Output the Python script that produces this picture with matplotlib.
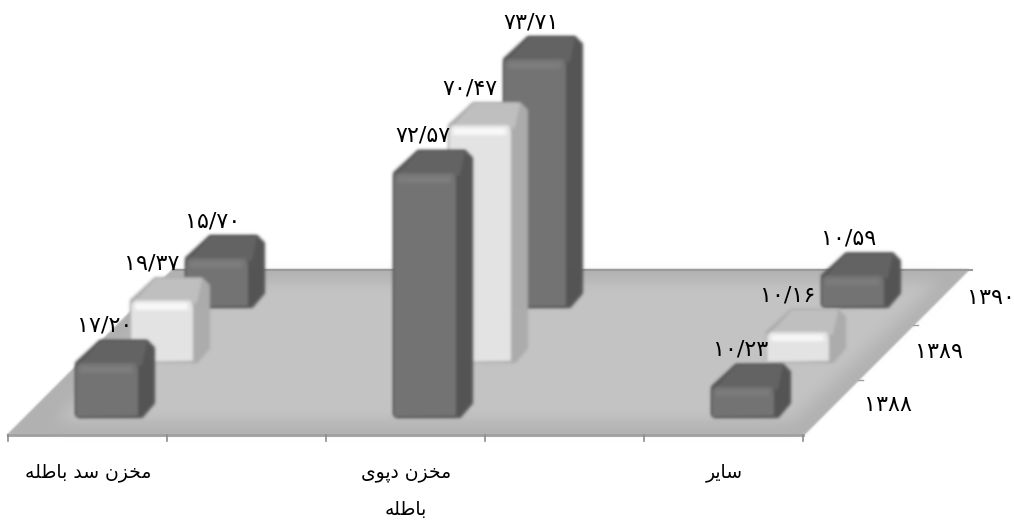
import numpy as np
import matplotlib
matplotlib.use('Agg')
import matplotlib.pyplot as plt
from matplotlib.patches import Polygon

# values
categories = ['مخزن سد باطله', '', ['مخزن دپوی', 'باطله'], '', 'سایر']
series = ['۱۳۸۸', '۱۳۸۹', '۱۳۹۰']
vals_1388 = [17.20, 72.57, 10.23]
vals_1389 = [19.37, 70.47, 10.16]
vals_1390 = [15.70, 73.71, 10.59]
labels_1388 = ['۱۷/۲۰', '۷۲/۵۷', '۱۰/۲۳']
labels_1389 = ['۱۹/۳۷', '۷۰/۴۷', '۱۰/۱۶']
labels_1390 = ['۱۵/۷۰', '۷۳/۷۱', '۱۰/۵۹']
bar_slots = [0, 2, 4]

# scale of the fake 3d box, in figure pixels
x0, y0 = 8, 435
slot_w = 159
step = 55
bar_w, side_x, depth_x, depth_y = 64, 14, 21, 24
px_per_unit, base_value = 3.43, 2
label_shift = [29, 21, 27]

# matplotlib does no arabic shaping, so pick the joined glyphs by hand
forms = {
    'م': 'ﻡﻢﻣﻤ', 'خ': 'ﺥﺦﺧﺨ', 'ن': 'ﻥﻦﻧﻨ', 'س': 'ﺱﺲﺳﺴ', 'ب': 'ﺏﺐﺑﺒ',
    'ط': 'ﻁﻂﻃﻄ', 'ل': 'ﻝﻞﻟﻠ', 'ه': 'ﻩﻪﻫﻬ', 'پ': 'ﭖﭗﭘﭙ', 'ی': 'ﯼﯽﯾﯿ',
    'ز': 'ﺯﺰ', 'د': 'ﺩﺪ', 'ا': 'ﺍﺎ', 'و': 'ﻭﻮ', 'ر': 'ﺭﺮ',
}


def shape(text):
    out = []
    for i, ch in enumerate(text):
        if ch not in forms:
            out.append(ch)
            continue
        prev = text[i - 1] if i > 0 else ' '
        nxt = text[i + 1] if i + 1 < len(text) else ' '
        joins_prev = prev in forms and len(forms[prev]) == 4
        joins_next = nxt in forms and len(forms[ch]) == 4
        if joins_prev and joins_next:
            out.append(forms[ch][3])
        elif joins_prev:
            out.append(forms[ch][1])
        elif joins_next:
            out.append(forms[ch][2])
        else:
            out.append(forms[ch][0])
    return ''.join(out[::-1])


def blur(radius):
    half = int(radius * 3) + 1
    kernel = np.exp(-0.5 * (np.arange(-half, half + 1) / radius) ** 2)
    kernel /= kernel.sum()

    def smooth(a):
        a = np.apply_along_axis(lambda m: np.convolve(m, kernel, mode='same'), 0, a)
        return np.apply_along_axis(lambda m: np.convolve(m, kernel, mode='same'), 1, a)

    def filt(image, dpi):
        im = np.pad(image, ((half, half), (half, half), (0, 0)))
        alpha = smooth(im[:, :, 3])
        out = np.zeros_like(im)
        for c in range(3):
            out[:, :, c] = smooth(im[:, :, c] * im[:, :, 3]) / np.maximum(alpha, 1e-4)
        out[:, :, 3] = alpha
        return np.clip(out, 0, 1), -half, -half
    return filt


def poly(ax, pts, gray, r=1.5, z=2):
    c = str(gray / 255)
    p = Polygon(pts, closed=True, facecolor=c, edgecolor=c, lw=1.5, joinstyle='round', zorder=z)
    p.set_agg_filter(blur(r))
    ax.add_patch(p)


def draw_bar(ax, left, bottom, h, tones, z):
    front, side, top, shine = tones
    right = left + bar_w
    up = bottom - h
    b = 7  # bevel
    # whole outline first so no seams show through the blur
    poly(ax, [(left + 3, bottom), (right + 2, bottom), (right + side_x, bottom - 14),
              (right + side_x, up - depth_y + b), (right + side_x - b, up - depth_y),
              (left + depth_x + 3, up - depth_y), (left, up - 2), (left, bottom - 3)], side, z=z)
    poly(ax, [(left + 4, up), (left + depth_x + 4, up - depth_y + 1), (right + side_x - 8, up - depth_y + 1),
              (right + 1, up)], top, z=z)
    poly(ax, [(left + 1, up + 2), (left + 4, up - 1), (right - 5, up - 1), (right - 3, up + 3),
              (right - 3, bottom - 2), (left + 1, bottom - 1)], front, z=z)
    band = min(5, h * 0.15)
    poly(ax, [(left + 5, up + 2), (right - 8, up + 2), (right - 8, up + 2 + band), (left + 5, up + 2 + band)],
         shine, r=1.8, z=z)


fig = plt.figure(figsize=(10.14, 5.2), dpi=100)
ax = fig.add_axes([0, 0, 1, 1])
ax.set_xlim(0, 1014)
ax.set_ylim(520, 0)
ax.axis('off')

n_slots = len(categories)
floor_d = step * len(series)
fx1 = x0 + slot_w * n_slots
floor = [(x0, y0), (fx1, y0), (fx1 + floor_d, y0 - floor_d), (x0 + floor_d, y0 - floor_d)]

# floor: dark rim, then a lighter soft middle
poly(ax, floor, 178, r=0.8, z=1)
inner = [(x0 + 50, y0 - 14), (fx1 - 12, y0 - 14), (fx1 + floor_d - 30, y0 - floor_d + 12), (x0 + floor_d + 12, y0 - floor_d + 12)]
poly(ax, inner, 196, r=8, z=1)
ax.plot([x0, fx1], [y0, y0], color='#a0a0a0', lw=2, zorder=1)
ax.plot([x0 + floor_d, fx1 + floor_d + 4], [y0 - floor_d, y0 - floor_d], color='#9a9a9a', lw=1.5, zorder=1)

for i in range(n_slots + 1):
    tick_x = x0 + slot_w * i
    ax.plot([tick_x, tick_x], [y0, y0 + 6], color='#8c8c8c', lw=1.2, zorder=1)

dark = (116, 84, 100, 126)
light = (228, 172, 192, 250)
tone_list = [dark, light, dark]
all_vals = [vals_1388, vals_1389, vals_1390]
all_labels = [labels_1388, labels_1389, labels_1390]

# back row first so the front row covers it
for s in range(len(series) - 1, -1, -1):
    for k, slot in enumerate(bar_slots):
        left = x0 + slot * slot_w + 68 + s * step
        bottom = y0 - 18 - s * step
        h = (all_vals[s][k] - base_value) * px_per_unit
        draw_bar(ax, left, bottom, h, tone_list[s], z=3 + (len(series) - s))
        ax.text(left + label_shift[s], bottom - h - depth_y - 15, all_labels[s][k], fontsize=16,
                ha='center', va='center', color='black', zorder=10)

# series names down the right edge
for s, name in enumerate(series):
    ax.text(fx1 + 85 + s * 51.5, y0 - 30 - s * 53.5, name, fontsize=16, ha='center', va='center', zorder=10)
    if s > 0:
        ax.plot([fx1 + s * step, fx1 + s * step + 5], [y0 - s * step, y0 - s * step], color='#a0a0a0', lw=1, zorder=1)

# category names under the floor
for i, cat in enumerate(categories):
    if not cat:
        continue
    lines = cat if isinstance(cat, list) else [cat]
    for j, line in enumerate(lines):
        ax.text(x0 + slot_w * i + 80, 472 + j * 38, shape(line), fontsize=13.5, ha='center', va='center', zorder=10)

fig.savefig('out.png', dpi=100)
